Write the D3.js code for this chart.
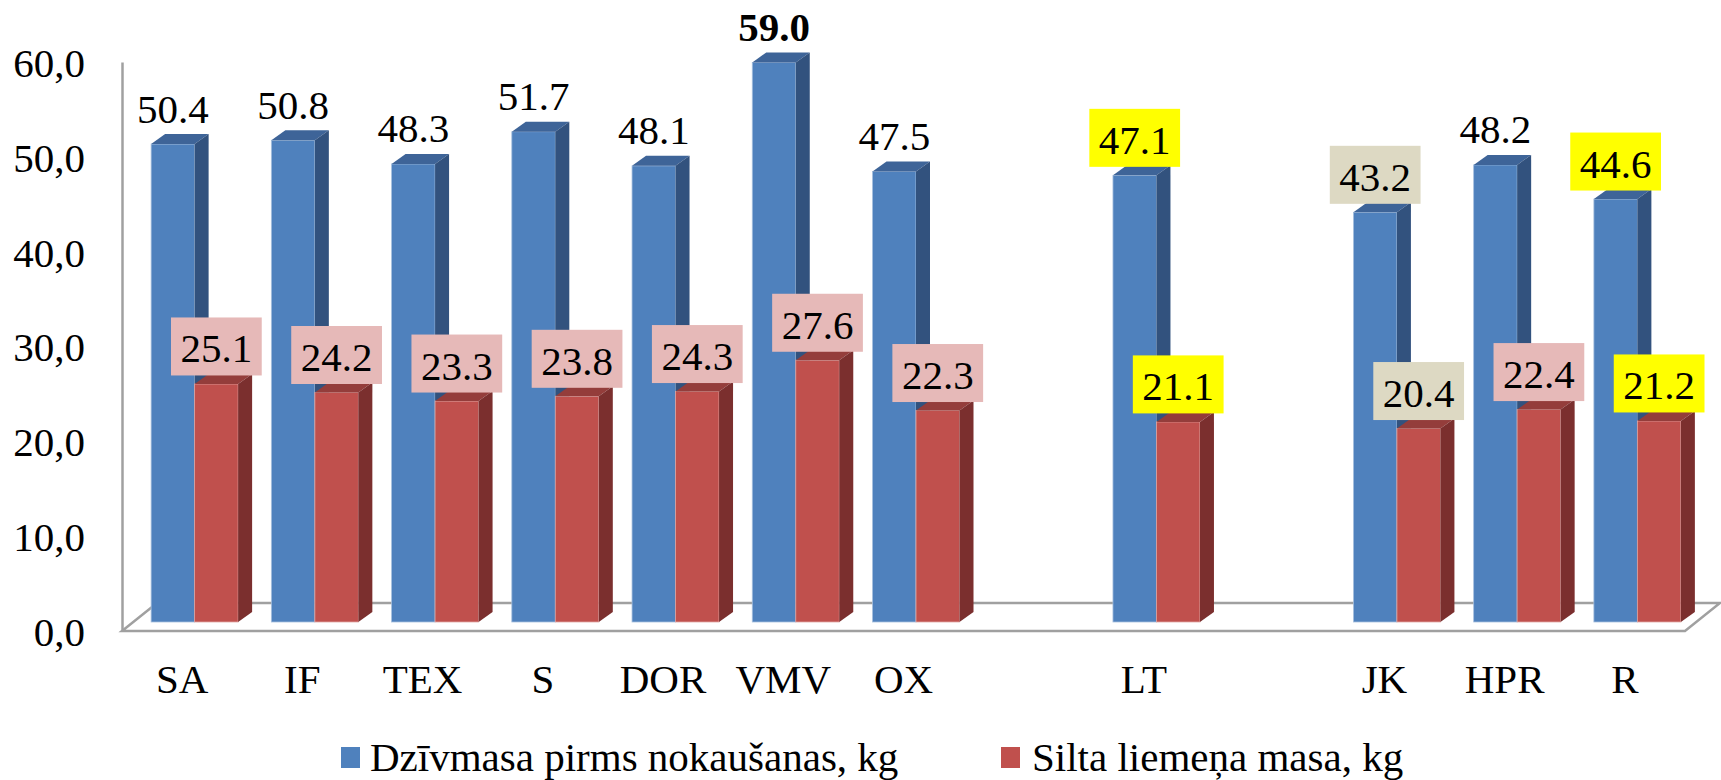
<!DOCTYPE html>
<html lang="lv">
<head>
<meta charset="utf-8">
<title>Dzīvmasa un liemeņa masa</title>
<style>
    body { margin: 0; background: #fff; }
    svg text { font-family: "Liberation Serif", "Times New Roman", serif; font-size: 41px; fill: #000; }
</style>
</head>
<body>
<svg id="chart" width="1721" height="780"></svg>
<script src="https://d3js.org/d3.v7.min.js"></script>
<script>
    // data ("" = empty slot on the axis)
    const categories = ["SA", "IF", "TEX", "S", "DOR", "VMV", "OX", "", "LT", "", "JK", "HPR", "R"]
    const liveWeight = [50.4, 50.8, 48.3, 51.7, 48.1, 59.0, 47.5, null, 47.1, null, 43.2, 48.2, 44.6]
    const carcassWeight = [25.1, 24.2, 23.3, 23.8, 24.3, 27.6, 22.3, null, 21.1, null, 20.4, 22.4, 21.2]
    const seriesNames = ["Dzīvmasa pirms nokaušanas, kg", "Silta liemeņa masa, kg"]
    const yTicks = [0, 10, 20, 30, 40, 50, 60]

    // look
    const serif = '"Liberation Serif", "Times New Roman", serif'
    const colors = [
        { front: "#4F81BD", top: "#3E6498", side: "#32527E", edge: "#A7C0DE" },
        { front: "#C0504D", top: "#943D3B", side: "#7B2F2E", edge: "#E0A8A6" }
    ]
    const highlight = { LT: "#FFFF00", R: "#FFFF00", JK: "#DDD9C3" }
    const pink = "#E6B9B8"

    const svg = d3.select("#chart")

    const x = d3.scaleBand().domain(d3.range(categories.length)).range([122, 1685])
    const y = d3.scaleLinear().domain([0, 60]).range([631, 62])

    const floorD = { dx: 35, dy: -28 }   // depth of the floor
    const barOff = { dx: 12.5, dy: -9 }  // bars stand a bit behind the front edge
    const barD = { dx: 14, dy: -10 }     // depth of a bar
    const barW = 43.5

    // floor
    const fx0 = x.range()[0], fx1 = x.range()[1], fy = y(0)
    svg.append("polygon")
        .attr("points", [[fx0, fy], [fx1, fy], [fx1 + floorD.dx, fy + floorD.dy], [fx0 + floorD.dx, fy + floorD.dy]].join(" "))
        .attr("fill", "#fff")
        .attr("stroke", "#A0A0A0")
        .attr("stroke-width", 2.5)

    // bars
    const series = [liveWeight, carcassWeight]
    const bars = []
    categories.forEach((c, i) => {
        series.forEach((vals, s) => {
            const v = vals[i]
            if (v == null) return
            const x0 = x(i) + x.bandwidth() / 2 + barOff.dx - barW + s * barW
            const yTop = y(v) + barOff.dy
            const yBase = y(0) + barOff.dy
            bars.push({ c, s, v, x0, yTop })
            const g = svg.append("g")
            g.append("rect")
                .attr("x", x0).attr("y", yTop)
                .attr("width", barW).attr("height", yBase - yTop)
                .attr("fill", colors[s].front)
                .attr("stroke", colors[s].edge).attr("stroke-width", 0.8)
            g.append("polygon")
                .attr("points", [[x0, yTop], [x0 + barW, yTop], [x0 + barW + barD.dx, yTop + barD.dy], [x0 + barD.dx, yTop + barD.dy]].join(" "))
                .attr("fill", colors[s].top)
            g.append("polygon")
                .attr("points", [[x0 + barW, yTop], [x0 + barW + barD.dx, yTop + barD.dy], [x0 + barW + barD.dx, yBase + barD.dy], [x0 + barW, yBase]].join(" "))
                .attr("fill", colors[s].side)
        })
    })

    // value labels
    const maxVal = d3.max(liveWeight)
    bars.forEach(b => {
        let fill = null
        if (highlight[b.c]) fill = highlight[b.c]
        else if (b.s === 1) fill = pink
        const cx = b.x0 + barW / 2
        const boxBottom = b.yTop - 8.5
        const g = svg.append("g")
        const box = g.append("rect")
        const t = g.append("text")
            .attr("x", cx)
            .attr("y", boxBottom - 13)
            .attr("text-anchor", "middle")
            .style("font-family", serif)
            .style("font-weight", b.v === maxVal ? "bold" : "normal")
            .text(b.v.toFixed(1))
        if (fill) {
            const tw = t.node().getComputedTextLength()
            box.attr("x", cx - tw / 2 - 9.5).attr("y", boxBottom - 58)
                .attr("width", tw + 19).attr("height", 58)
                .attr("fill", fill)
        } else {
            box.remove()
        }
    })

    // value axis
    const yAxis = svg.append("g")
        .attr("transform", `translate(${fx0},0)`)
        .call(d3.axisLeft(y).tickValues(yTicks).tickSize(0).tickPadding(37)
            .tickFormat(d => d3.format(".1f")(d).replace(".", ",")))
    yAxis.attr("font-family", serif).attr("font-size", 41)
    yAxis.select(".domain").attr("stroke", "#A0A0A0").attr("stroke-width", 2.5)
    yAxis.selectAll("text")
        .style("font-family", serif)
        .attr("dy", "0.35em")

    // category labels
    svg.append("g").selectAll("text")
        .data(categories)
        .join("text")
        .attr("x", (d, i) => x(i) + x.bandwidth() / 2)
        .attr("y", 693)
        .attr("text-anchor", "middle")
        .style("font-family", serif)
        .text(d => d)

    // legend
    const legendX = [[341, 370], [1001, 1032]]
    seriesNames.forEach((name, s) => {
        svg.append("rect")
            .attr("x", legendX[s][0]).attr("y", 747)
            .attr("width", 19).attr("height", 21)
            .attr("fill", colors[s].front)
        svg.append("text")
            .attr("x", legendX[s][1]).attr("y", 771)
            .style("font-family", serif)
            .text(name)
    })
</script>
</body>
</html>
